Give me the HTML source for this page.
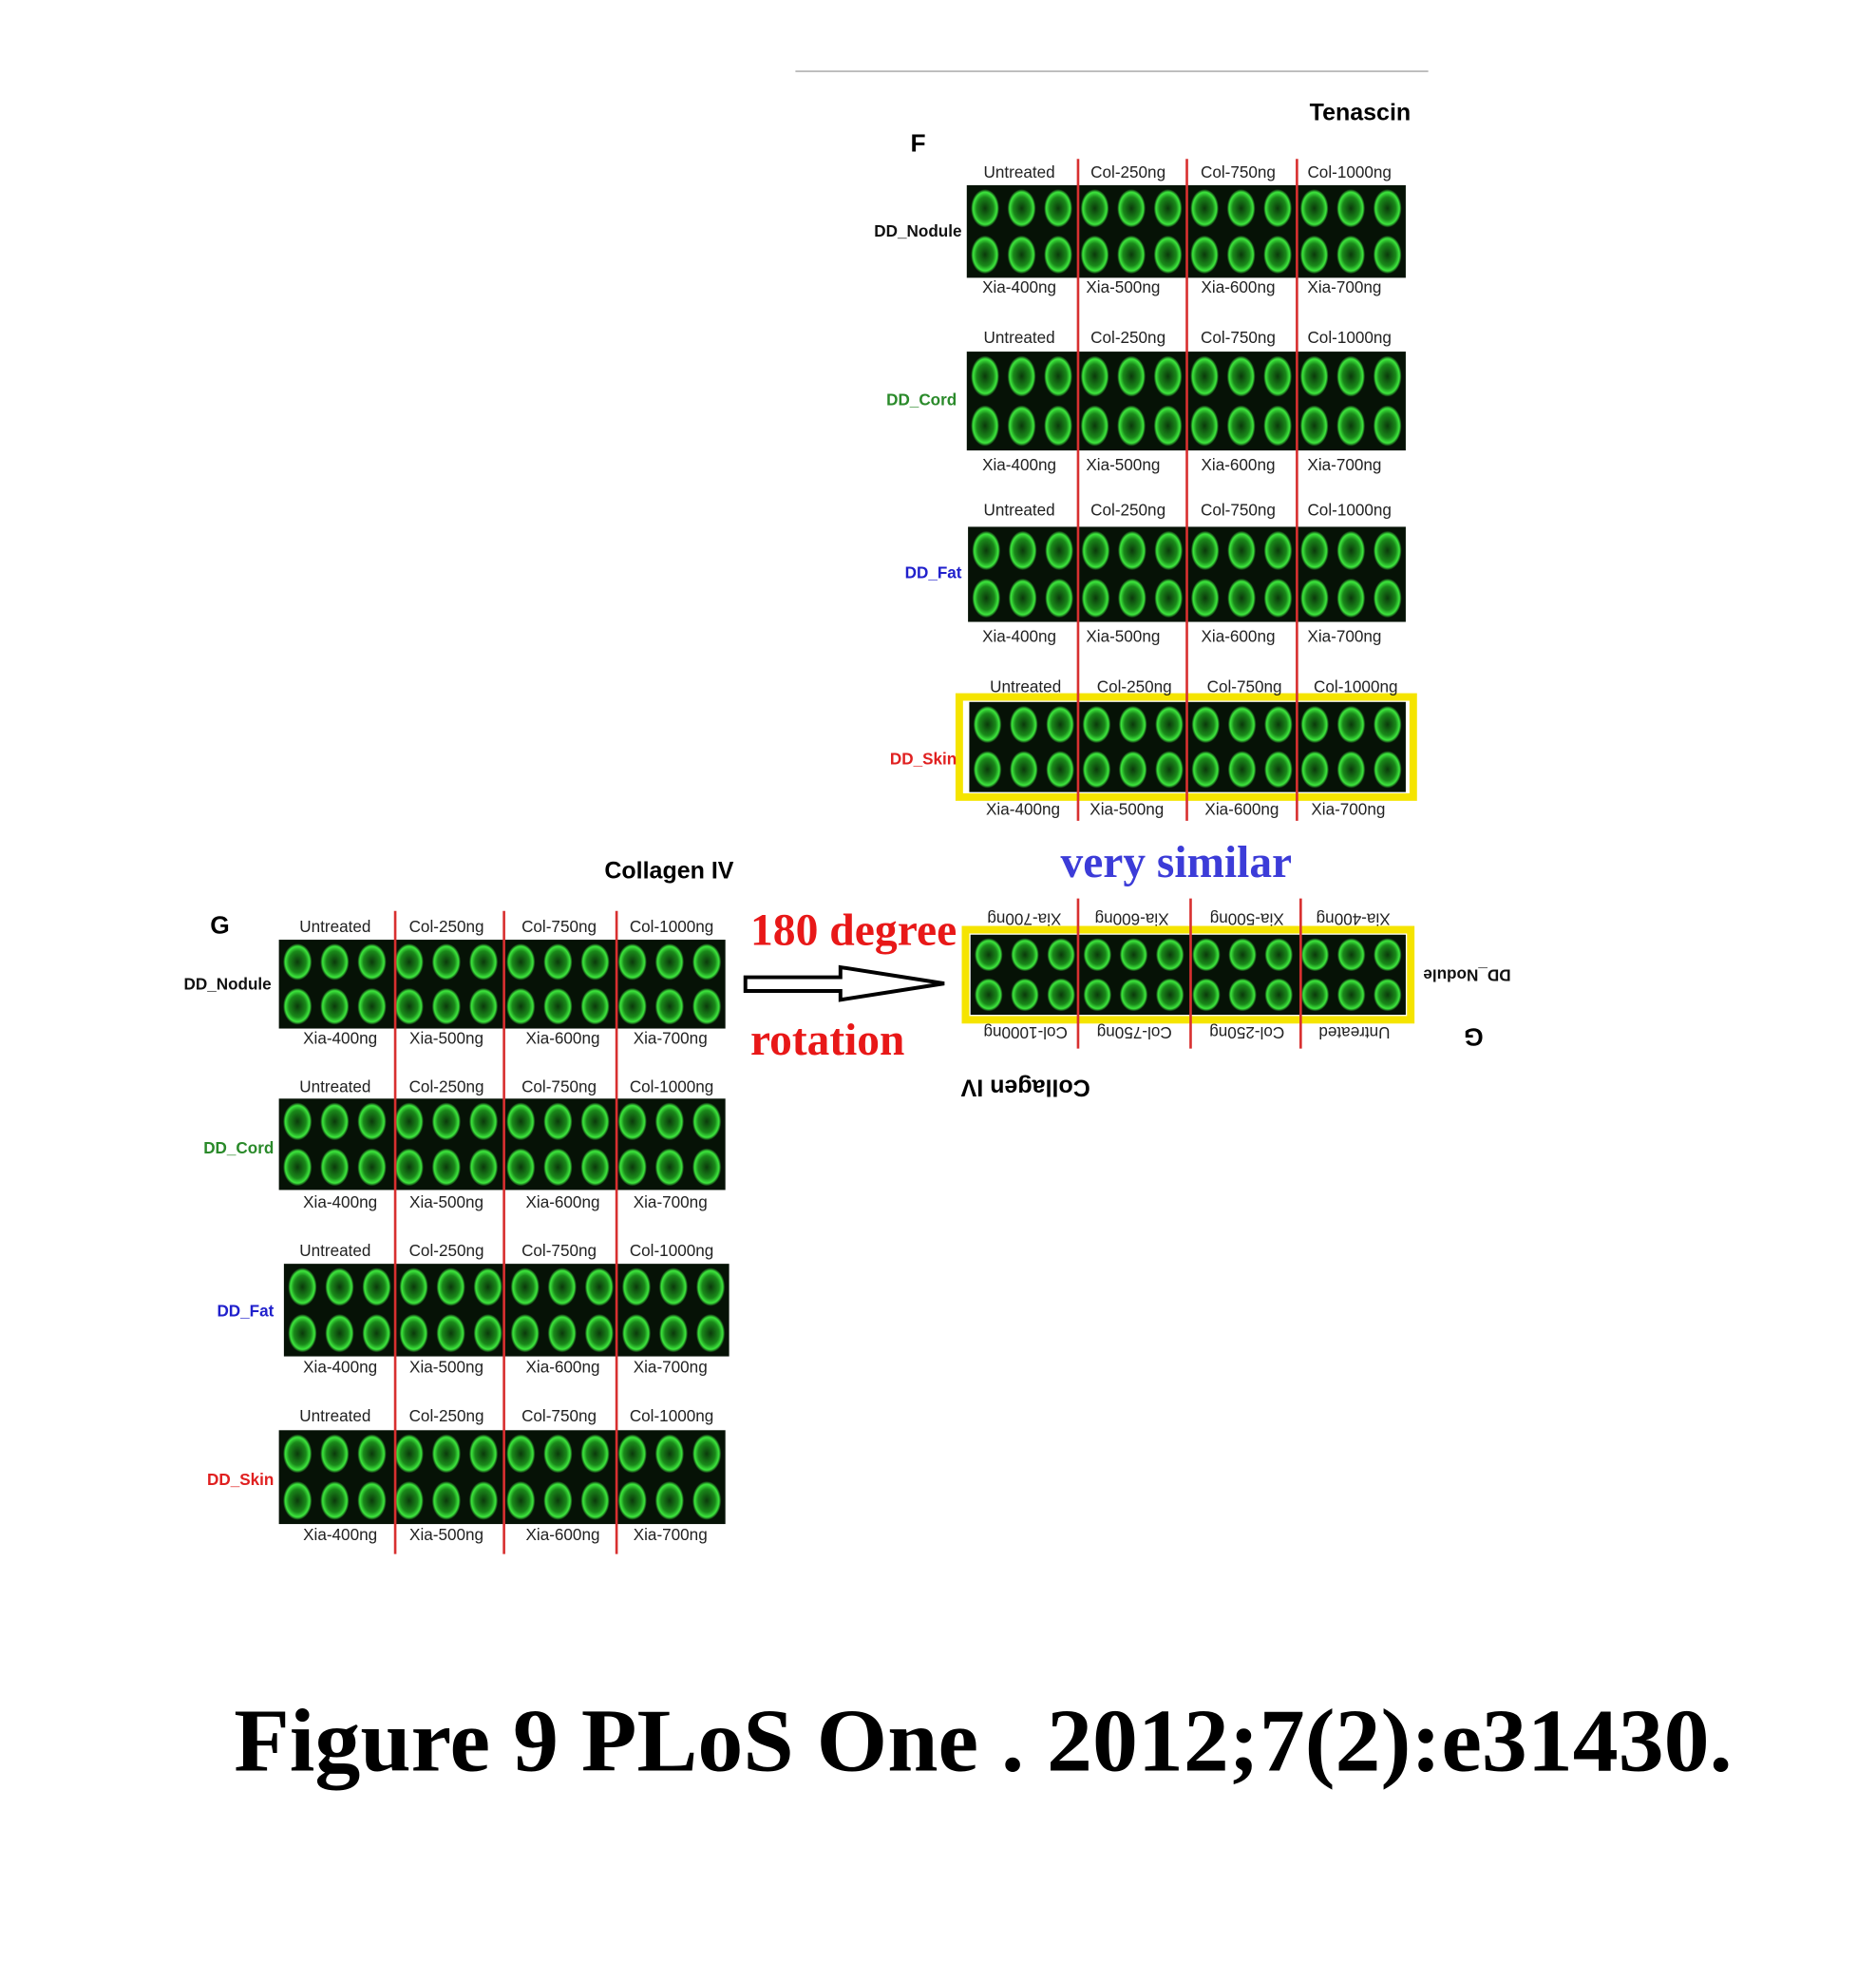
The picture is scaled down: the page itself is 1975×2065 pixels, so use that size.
<!DOCTYPE html>
<html><head><meta charset="utf-8"><style>html,body{margin:0;padding:0;background:#fff}svg{display:block}</style></head>
<body>
<svg width="1975" height="2065" viewBox="0 0 1500 1568" preserveAspectRatio="none" xmlns="http://www.w3.org/2000/svg">
<defs>
<radialGradient id="rg" cx="0.5" cy="0.5" r="0.5">
<stop offset="0" stop-color="#0b3a0b"/><stop offset="0.6" stop-color="#1a8a1a"/><stop offset="0.85" stop-color="#3ee83e"/><stop offset="1" stop-color="#0a200a"/>
</radialGradient>
<pattern id="ov" patternUnits="objectBoundingBox" width="0.083333" height="0.5" patternContentUnits="objectBoundingBox">
<rect width="0.083333" height="0.5" fill="#061206"/>
<ellipse cx="0.041667" cy="0.25" rx="0.032" ry="0.205" fill="url(#rg)"/>
</pattern>
</defs>
<rect width="1500" height="1568" fill="#fff"/>
<line x1="636" y1="57" x2="1142" y2="57" stroke="#bbb" stroke-width="1.5"/>
<g font-family="Liberation Sans, sans-serif">
<text x="1128" y="96" text-anchor="end" font-size="19" font-weight="bold">Tenascin</text>
<text x="728" y="121" font-size="20" font-weight="bold">F</text>
<rect x="773" y="148" width="351" height="74" fill="url(#ov)"/>
<rect x="773" y="281" width="351" height="79" fill="url(#ov)"/>
<rect x="774" y="421" width="350" height="76" fill="url(#ov)"/>
<rect x="767" y="557" width="363" height="80" fill="none" stroke="#f5e400" stroke-width="6"/>
<rect x="775" y="561" width="349" height="72" fill="url(#ov)"/>
<g stroke="#d83030" stroke-width="2"><line x1="862" y1="127" x2="862" y2="656"/><line x1="949" y1="127" x2="949" y2="656"/><line x1="1037" y1="127" x2="1037" y2="656"/></g>
<g font-size="13" fill="#222" text-anchor="middle">
<text x="815" y="142">Untreated</text><text x="902" y="142">Col-250ng</text><text x="990" y="142">Col-750ng</text><text x="1079" y="142">Col-1000ng</text>
<text x="815" y="234">Xia-400ng</text><text x="898" y="234">Xia-500ng</text><text x="990" y="234">Xia-600ng</text><text x="1075" y="234">Xia-700ng</text>
<text x="815" y="274">Untreated</text><text x="902" y="274">Col-250ng</text><text x="990" y="274">Col-750ng</text><text x="1079" y="274">Col-1000ng</text>
<text x="815" y="376">Xia-400ng</text><text x="898" y="376">Xia-500ng</text><text x="990" y="376">Xia-600ng</text><text x="1075" y="376">Xia-700ng</text>
<text x="815" y="412">Untreated</text><text x="902" y="412">Col-250ng</text><text x="990" y="412">Col-750ng</text><text x="1079" y="412">Col-1000ng</text>
<text x="815" y="513">Xia-400ng</text><text x="898" y="513">Xia-500ng</text><text x="990" y="513">Xia-600ng</text><text x="1075" y="513">Xia-700ng</text>
<text x="820" y="553">Untreated</text><text x="907" y="553">Col-250ng</text><text x="995" y="553">Col-750ng</text><text x="1084" y="553">Col-1000ng</text>
<text x="818" y="651">Xia-400ng</text><text x="901" y="651">Xia-500ng</text><text x="993" y="651">Xia-600ng</text><text x="1078" y="651">Xia-700ng</text>
</g>
<g font-size="13" font-weight="bold" text-anchor="end">
<text x="769" y="189" fill="#111">DD_Nodule</text>
<text x="765" y="324" fill="#2a8a2a">DD_Cord</text>
<text x="769" y="462" fill="#2020cc">DD_Fat</text>
<text x="765" y="611" fill="#e02020">DD_Skin</text>
</g>

<text x="535" y="702" text-anchor="middle" font-size="19" font-weight="bold">Collagen IV</text>
<text x="168" y="746" font-size="20" font-weight="bold">G</text>
<rect x="223" y="751" width="357" height="71" fill="url(#ov)"/>
<rect x="223" y="878" width="357" height="73" fill="url(#ov)"/>
<rect x="227" y="1010" width="356" height="74" fill="url(#ov)"/>
<rect x="223" y="1143" width="357" height="75" fill="url(#ov)"/>
<g stroke="#d83030" stroke-width="2"><line x1="316" y1="728" x2="316" y2="1242"/><line x1="403" y1="728" x2="403" y2="1242"/><line x1="493" y1="728" x2="493" y2="1242"/></g>
<g font-size="13" fill="#222" text-anchor="middle">
<text x="268" y="745">Untreated</text><text x="357" y="745">Col-250ng</text><text x="447" y="745">Col-750ng</text><text x="537" y="745">Col-1000ng</text>
<text x="272" y="834">Xia-400ng</text><text x="357" y="834">Xia-500ng</text><text x="450" y="834">Xia-600ng</text><text x="536" y="834">Xia-700ng</text>
<text x="268" y="873">Untreated</text><text x="357" y="873">Col-250ng</text><text x="447" y="873">Col-750ng</text><text x="537" y="873">Col-1000ng</text>
<text x="272" y="965">Xia-400ng</text><text x="357" y="965">Xia-500ng</text><text x="450" y="965">Xia-600ng</text><text x="536" y="965">Xia-700ng</text>
<text x="268" y="1004">Untreated</text><text x="357" y="1004">Col-250ng</text><text x="447" y="1004">Col-750ng</text><text x="537" y="1004">Col-1000ng</text>
<text x="272" y="1097">Xia-400ng</text><text x="357" y="1097">Xia-500ng</text><text x="450" y="1097">Xia-600ng</text><text x="536" y="1097">Xia-700ng</text>
<text x="268" y="1136">Untreated</text><text x="357" y="1136">Col-250ng</text><text x="447" y="1136">Col-750ng</text><text x="537" y="1136">Col-1000ng</text>
<text x="272" y="1231">Xia-400ng</text><text x="357" y="1231">Xia-500ng</text><text x="450" y="1231">Xia-600ng</text><text x="536" y="1231">Xia-700ng</text>
</g>
<g font-size="13" font-weight="bold" text-anchor="end">
<text x="217" y="791" fill="#111">DD_Nodule</text>
<text x="219" y="922" fill="#2a8a2a">DD_Cord</text>
<text x="219" y="1052" fill="#2020cc">DD_Fat</text>
<text x="219" y="1187" fill="#e02020">DD_Skin</text>
</g>

<g transform="rotate(180 950 780)">
<rect x="772" y="745" width="356" height="72" fill="none" stroke="#f5e400" stroke-width="6"/>
<rect x="776" y="749" width="348" height="64" fill="url(#ov)"/>
<g stroke="#d83030" stroke-width="2"><line x1="1038" y1="722" x2="1038" y2="842"/><line x1="948" y1="722" x2="948" y2="842"/><line x1="860" y1="722" x2="860" y2="842"/></g>
<g font-size="13" fill="#222" text-anchor="middle">
<text x="817" y="739">Untreated</text><text x="903" y="739">Col-250ng</text><text x="993" y="739">Col-750ng</text><text x="1080" y="739">Col-1000ng</text>
<text x="818" y="830">Xia-400ng</text><text x="903" y="830">Xia-500ng</text><text x="995" y="830">Xia-600ng</text><text x="1081" y="830">Xia-700ng</text>
</g>
<text x="762" y="785" text-anchor="end" font-size="13" font-weight="bold" fill="#111">DD_Nodule</text>
<text x="714" y="738" font-size="20" font-weight="bold">G</text>
<text x="1080" y="697" text-anchor="middle" font-size="19" font-weight="bold">Collagen IV</text>
</g>
</g>

<path d="M596 781 L672 781 L672 773 L755 786 L672 799 L672 792 L596 792 Z" fill="#fff" stroke="#000" stroke-width="3"/>
<g font-family="Liberation Serif, serif" font-weight="bold">
<text x="600" y="755" font-size="36" fill="#e81818" textLength="165" lengthAdjust="spacingAndGlyphs">180 degree</text>
<text x="600" y="843" font-size="36" fill="#e81818">rotation</text>
<text x="848" y="701" font-size="36" fill="#3c3cd8" textLength="185" lengthAdjust="spacingAndGlyphs">very similar</text>
<text x="187" y="1415" font-size="72" fill="#000" textLength="1198" lengthAdjust="spacingAndGlyphs">Figure 9 PLoS One . 2012;7(2):e31430.</text>
</g>
</svg>
</body></html>
